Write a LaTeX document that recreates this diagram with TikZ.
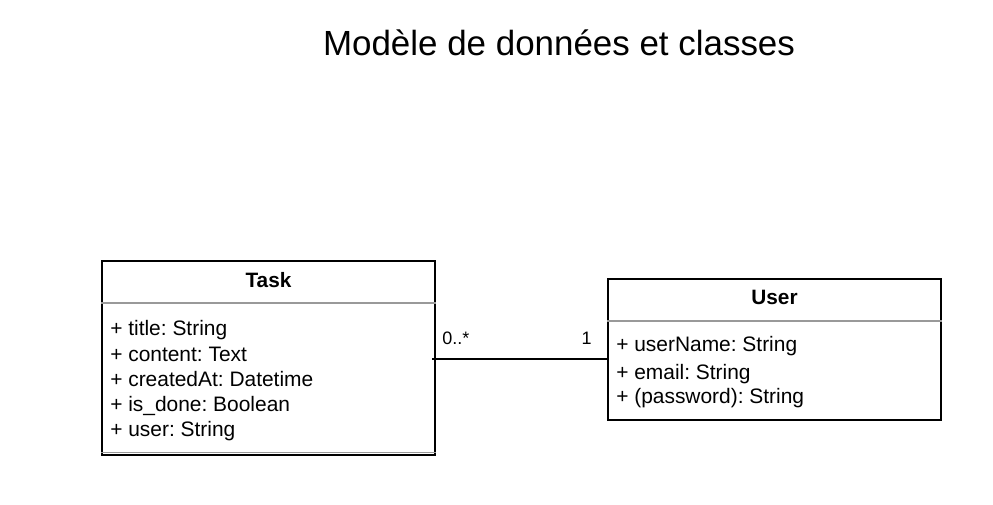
\documentclass[tikz,border=0pt]{standalone}
\usepackage{fontspec}
\setmainfont{Liberation Sans}
\usetikzlibrary{fit}
\frenchspacing

\begin{document}
\begin{tikzpicture}[x=0.75pt, y=-0.75pt]
        \tikzset{
                classbox/.style={draw=black, line width=1.1pt, inner sep=0pt},
                sepline/.style={draw=black!40, line width=1.1pt},
                classname/.style={anchor=base, inner sep=0pt, font=\fontsize{15.6}{18}\selectfont\bfseries},
                attr/.style={anchor=base west, inner sep=0pt, font=\fontsize{15.7}{19}\selectfont},
                mult/.style={anchor=base west, inner sep=0pt, font=\fontsize{13.5}{16}\selectfont},
            }
        \useasboundingbox (0,0) rectangle (993,505);

        \node[anchor=base, inner sep=0pt, font=\fontsize{26.2}{30}\selectfont] (title) at (559,56) {Modèle de données et classes};

        % Task
        \node[classbox, fit={(102,261) (435,455)}] (task) {};
        \node[classname] (task-name) at (268.5,288) {Task};
        \draw[sepline] (task.west |- 0,303) -- (task.east |- 0,303);
        \draw[sepline] (task.west |- 0,452.5) -- (task.east |- 0,452.5);
        \foreach \a [count=\i] in {+ title: String, + content: Text, + createdAt: Datetime, + is\_done: Boolean, + user: String} {
                \node[attr] (task-attr-\i) at (110,310.8+25.2*\i) {\a};
            }

        % User
        \node[classbox, fit={(608,279) (941,420)}] (user) {};
        \node[classname] (user-name) at (774.5,305) {User};
        \draw[sepline] (user.west |- 0,321) -- (user.east |- 0,321);
        \foreach \y/\a [count=\i] in {352/+ userName: String, 379.5/+ email: String, 403.5/+ (password): String} {
                \node[attr] (user-attr-\i) at (616,\y) {\a};
            }

        % association
        \coordinate (assoc-start) at (432,359);
        \draw[line width=1.1pt] (assoc-start) -- (user.west |- assoc-start);
        \node[mult] (mult-task) at (442,345) {0..*};
        \node[mult, anchor=base east] (mult-user) at (592,345) {1};
    \end{tikzpicture}
\end{document}
